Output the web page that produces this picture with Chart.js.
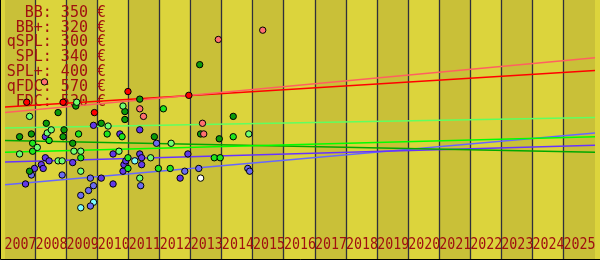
<!DOCTYPE html>
<html>
<head>
<meta charset="utf-8">
<script src="https://cdn.jsdelivr.net/npm/chart.js@4/dist/chart.umd.min.js"></script>
<style>
  html, body { margin:0; padding:0; background:#dcd43c; overflow:hidden; }
  canvas { display:block; }
</style>
</head>
<body>
<canvas id="c" width="600" height="260"></canvas>
<script>
/* price history — deals per package, one dot each, with trend lines */

const YEARS = [2007,2008,2009,2010,2011,2012,2013,2014,2015,2016,2017,2018,2019,2020,2021,2022,2023,2024,2025];

const PRICE_LIST = [
  ['BB',   350],
  ['BB+',  320],
  ['qSPL', 300],
  ['SPL',  340],
  ['SPL+', 400],
  ['qFDC', 570],
  ['FDC',  530],
];

// [year, €]
const FDC_PTS  = [[2007.70,443],[2008.87,443],[2009.88,413],[2010.96,474],[2012.92,463]];
const QFDC_PTS = [[2008.27,502],[2011.34,424],[2011.46,402],[2013.36,382],[2013.40,351],[2013.87,625],[2015.30,652]];
const SPLP_PTS = [[2007.47,293],[2007.79,402],[2008.04,312],[2008.36,354],[2008.49,363],[2008.71,273],[2008.84,273],
                  [2009.22,301],[2009.31,443],[2009.44,301],[2009.44,243],[2010.32,374],[2010.67,301],[2010.80,432],
                  [2011.34,223],[2011.69,282],[2012.35,324],[2014.85,351]];
const SPL_PTS  = [[2007.89,324],[2007.89,301],[2008.42,332],[2009.37,351],[2009.44,282],[2010.29,351],[2010.77,343],
                  [2010.96,282],[2010.96,251],[2011.94,251],[2012.10,424],[2012.32,251],[2013.74,282],[2013.93,282],[2014.35,343]];
const QSPL_PTS = [[2007.47,343],[2007.79,243],[2007.85,351],[2008.33,382],[2008.71,413],[2008.87,343],[2008.90,363],
                  [2009.18,324],[2009.28,432],[2010.10,382],[2010.86,416],[2010.86,393],[2011.34,452],[2011.81,343],
                  [2013.27,552],[2013.30,351],[2013.90,337],[2014.35,402]];
const BBP_PTS  = [[2007.66,206],[2007.95,251],[2008.17,262],[2008.23,251],[2008.30,343],[2008.30,282],[2008.42,273],
                  [2009.18,268],[2009.85,376],[2010.10,223],[2010.48,293],[2010.48,206],[2010.70,351],[2010.80,243],
                  [2010.83,262],[2010.89,273],[2011.34,363],[2011.34,293],[2011.40,282],[2011.40,262],[2012.64,223],[2012.89,293]];
const BB_PTS   = [[2007.85,232],[2008.84,232],[2009.44,173],[2009.69,187],[2009.75,223],[2009.75,142],[2009.85,201],
                  [2011.37,201],[2011.88,324],[2012.79,243],[2013.24,251],[2014.82,251],[2014.88,243]];
const OTHER_PTS = [[2009.44,137],[2009.85,153],[2011.18,273]];
const WHITE_PTS = [[2013.30,223]];

// trend lines, value at TREND_X[0] and TREND_X[1]
const TREND_X    = [2007, 2026];
const TREND_QFDC = [413, 572];
const TREND_FDC  = [429, 535];
const TREND_SPLP = [368, 399];
const TREND_SPL  = [298, 343];
const TREND_QSPL = [332, 298];
const TREND_BBP  = [270, 318];
const TREND_BB   = [204, 354];

const pts = a => a.map(([x,y]) => ({x, y}));
const trend = v => TREND_X.map((x,i) => ({x, y:v[i]}));

function dots(data, color) {
  return { type:'scatter', data:pts(data), backgroundColor:color, borderColor:'#000', borderWidth:1,
           pointRadius:3.2, order:1 };
}
function line(data, color) {
  return { type:'line', data:trend(data), borderColor:color, borderWidth:1.5, pointRadius:0,
           fill:false, tension:0, order:2 };
}

const backdrop = {
  id:'backdrop',
  beforeDatasetsDraw(chart) {
    const {ctx, scales:{x}} = chart;
    const H = chart.height;
    ctx.save();
    YEARS.forEach((yr, i) => {
      const x0 = x.getPixelForValue(yr), x1 = x.getPixelForValue(yr+1);
      ctx.fillStyle = i % 2 === 0 ? '#c9c038' : '#dcd43c';
      ctx.fillRect(x0, 0, x1 - x0, H);
    });
    ctx.strokeStyle = '#30303c';
    ctx.lineWidth = 1.3;
    YEARS.slice(1).forEach(yr => {
      const px = Math.round(x.getPixelForValue(yr)) - 0.5;
      ctx.beginPath(); ctx.moveTo(px, 0); ctx.lineTo(px, H); ctx.stroke();
    });
    // year labels squeezed into their column
    ctx.fillStyle = '#a01010';
    ctx.font = '16px "DejaVu Sans Mono"';
    ctx.textAlign = 'center';
    ctx.textBaseline = 'middle';
    YEARS.forEach(yr => {
      const x0 = x.getPixelForValue(yr), x1 = x.getPixelForValue(yr+1);
      ctx.fillText(String(yr), (x0 + x1) / 2, 245, x1 - x0 + 1);
    });
    // price list
    ctx.font = '15px "DejaVu Sans Mono"';
    ctx.textAlign = 'right';
    PRICE_LIST.forEach(([name, eur], i) => {
      ctx.fillText(`${name}: ${eur} €`, 106, 13 + i * 14.8);
    });
    // left / bottom frame
    ctx.strokeStyle = '#000';
    ctx.lineWidth = 1;
    ctx.beginPath(); ctx.moveTo(0.5, 0); ctx.lineTo(0.5, H - 0.5); ctx.lineTo(chart.width, H - 0.5); ctx.stroke();
    ctx.restore();
  }
};

new Chart(document.getElementById('c'), {
  type:'scatter',
  data:{
    datasets:[
      line(TREND_QFDC, '#ff6060'),
      line(TREND_FDC,  '#ff0000'),
      line(TREND_SPLP, '#60ff60'),
      line(TREND_SPL,  '#00ff00'),
      line(TREND_QSPL, '#00a800'),
      line(TREND_BBP,  '#6633ff'),
      line(TREND_BB,   '#6666ff'),
      dots(FDC_PTS,  '#ff0000'),
      dots(QFDC_PTS, '#ff7070'),
      dots(SPLP_PTS, '#70ff70'),
      dots(SPL_PTS,  '#1ee61e'),
      dots(QSPL_PTS, '#0a9a0a'),
      dots(BBP_PTS,  '#6238e8'),
      dots(BB_PTS,   '#6b6bf2'),
      dots(OTHER_PTS,'#80ffff'),
      dots(WHITE_PTS,'#ffffff'),
    ],
  },
  options:{
    responsive:false, animation:false,
    layout:{ padding:0 },
    plugins:{ legend:{ display:false }, tooltip:{ enabled:false } },
    scales:{
      x:{ type:'linear', min:2007, max:2026, display:false },
      y:{ type:'linear', min:0, max:725, display:false },
    },
  },
  plugins:[backdrop],
});
</script>
</body>
</html>
